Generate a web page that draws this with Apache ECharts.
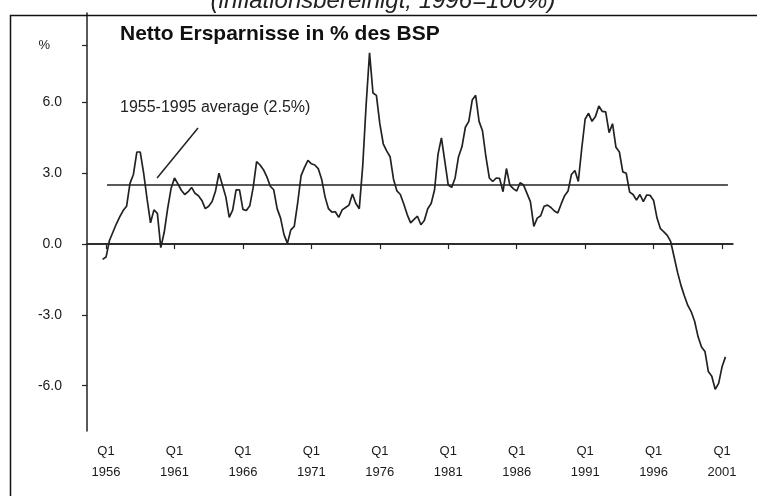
<!DOCTYPE html>
<html>
<head>
<meta charset="utf-8">
<script src="https://cdn.jsdelivr.net/npm/echarts@6/dist/echarts.min.js"></script>
<style>
html,body{margin:0;padding:0;background:#fff;}
#chart{width:757px;height:496px;}
</style>
</head>
<body>
<div id="chart"></div>
<script>
// Quarterly data, first point = 1955 Q4
const startYear = 1955.75;
const savings = [
 -0.65,-0.55,0.15,0.5,0.85,1.15,1.42,1.6,2.57,2.95,
 3.9,3.9,3.0,1.9,0.9,1.45,1.3,-0.15,0.5,1.5,
 2.35,2.8,2.55,2.28,2.1,2.22,2.4,2.15,2.05,1.85,
 1.5,1.6,1.8,2.25,3.0,2.5,2.0,1.13,1.44,2.3,
 2.3,1.47,1.42,1.62,2.4,3.49,3.35,3.15,2.85,2.45,
 2.3,1.5,1.1,0.4,0.03,0.6,0.75,1.75,2.9,3.25,
 3.55,3.4,3.35,3.2,2.75,2.0,1.5,1.35,1.37,1.13,
 1.45,1.55,1.65,2.12,1.72,1.5,3.3,5.9,8.1,6.4,
 6.3,5.1,4.25,3.95,3.7,2.75,2.25,2.1,1.7,1.25,
 0.9,1.05,1.18,0.82,1.0,1.5,1.72,2.3,3.8,4.5,
 3.5,2.5,2.4,2.8,3.7,4.12,4.95,5.2,6.1,6.3,
 5.2,4.8,3.7,2.8,2.65,2.8,2.78,2.22,3.2,2.5,
 2.35,2.25,2.6,2.5,2.15,1.8,0.75,1.1,1.2,1.6,
 1.65,1.55,1.4,1.32,1.7,2.05,2.25,2.95,3.12,2.65,
 4.05,5.3,5.54,5.2,5.4,5.85,5.62,5.6,4.72,5.1,
 4.1,3.9,3.06,3.0,2.2,2.1,1.86,2.1,1.8,2.08,
 2.06,1.85,1.1,0.65,0.52,0.37,0.1,-0.55,-1.2,-1.75,
 -2.2,-2.6,-2.87,-3.28,-3.93,-4.36,-4.55,-5.4,-5.6,-6.15,
 -5.9,-5.2,-4.78
];
const xTickYears = [1956,1961,1966,1971,1976,1981,1986,1991,1996,2001];
const yTickValues = [-6,-3,0,3,6];
const unitTickValue = 8.43;
const averageValue = 2.5;
const averageSpan = [1956.07, 2001.43];
const zeroSpan = [1954.61, 2001.8];
const leader = [[1959.73, 2.8],[1962.72, 4.92]];

const seriesData = savings.map((v,i)=>[startYear + 0.25*i, v]);

const FONT = "'Liberation Sans', Arial, sans-serif";
const chart = echarts.init(document.getElementById('chart'), null, {renderer:'canvas'});
chart.setOption({
  animation:false,
  backgroundColor:'#fff',
  grid:{left:87,right:24,top:13,bottom:65},
  xAxis:{
    type:'value', min:1954.61, max:2001.8,
    splitLine:{show:false},
    axisLine:{lineStyle:{color:'#222',width:1.5}},
    axisTick:{show:true,length:5,customValues:xTickYears,lineStyle:{color:'#222',width:1.2}},
    axisLabel:{customValues:xTickYears, margin:10, color:'#1a1a1a', fontFamily:FONT, fontSize:13, lineHeight:21,
      formatter:v=>'Q1\n'+Math.round(v)}
  },
  yAxis:{
    type:'value', min:-7.92, max:9.79,
    splitLine:{show:false},
    axisLine:{show:true,lineStyle:{color:'#222',width:1.5}},
    axisTick:{show:true,length:5,customValues:yTickValues.concat([unitTickValue]),lineStyle:{color:'#222',width:1.2}},
    axisLabel:{customValues:yTickValues.concat([unitTickValue]), margin:25, color:'#1a1a1a', fontFamily:FONT, fontSize:14,
      formatter:v=> v>7 ? '{u|%}' : v.toFixed(1),
      rich:{u:{fontFamily:FONT, fontSize:13, color:'#1a1a1a', padding:[0,12,0,0]}}}
  },
  series:[{
    type:'line', data:seriesData, showSymbol:false, symbol:'none',
    lineStyle:{color:'#222',width:1.7},
    markLine:{
      silent:true, symbol:'none', label:{show:false},
      lineStyle:{color:'#222',width:1.5,type:'solid'},
      data:[
        [{coord:[averageSpan[0],averageValue]},{coord:[averageSpan[1],averageValue]}],
        [{coord:[zeroSpan[0],0]},{coord:[zeroSpan[1],0]}],
        [{coord:leader[0]},{coord:leader[1]}]
      ]
    }
  }],
  graphic:[
    {type:'rect', left:8, top:13, shape:{width:800,height:520}, style:{fill:'none',stroke:'#111',lineWidth:1.5}, z:100},
    {type:'text', x:383, y:13, style:{text:'(inflationsbereinigt, 1996=100%)', font:"italic 24px "+FONT, fill:'#222', align:'center', verticalAlign:'bottom'}},
    {type:'text', x:120, y:34, style:{text:'Netto Ersparnisse in % des BSP', font:"bold 21px "+FONT, fill:'#111', align:'left', verticalAlign:'middle'}},
    {type:'text', x:120, y:108, style:{text:'1955-1995 average (2.5%)', font:"16px "+FONT, fill:'#222', align:'left', verticalAlign:'middle'}}
  ]
});
</script>
</body>
</html>
